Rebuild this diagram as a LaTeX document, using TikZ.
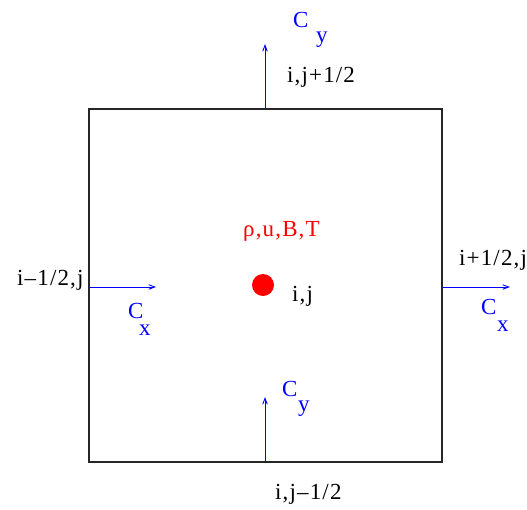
\documentclass[tikz,border=0pt]{standalone}
\usepackage{fontspec}
\setmainfont{Liberation Serif}
\usetikzlibrary{arrows.meta}
\newcommand{\lblfont}{\fontsize{23}{27}\selectfont\addfontfeature{LetterSpace=5}}
\begin{document}
\begin{tikzpicture}[x=1pt, y=-1pt,
    lbl/.style={anchor=base west, inner sep=0pt, font=\lblfont},
    flux/.style={myflux, line width=0.9pt, -{Straight Barb[length=6pt,width=4.5pt]}}]
    \definecolor{myflux}{RGB}{0,0,255}
    \definecolor{mystate}{RGB}{255,0,0}
    \useasboundingbox (0,0) rectangle (527,509);

    % cell
    \draw[line width=1.1pt, black!85] (89,109) rectangle (442,462);
    \coordinate (top) at (265,109);
    \coordinate (bot) at (265,462);
    \coordinate (lft) at (89,287);
    \coordinate (rgt) at (442,287);
    \coordinate (toptip) at (265,44);
    \coordinate (bottip) at (265,397);
    \coordinate (lfttip) at (156,287);
    \coordinate (rgttip) at (510,287);

    % fluxes across the faces
    \draw[flux] (top) -- (toptip);
    \draw[flux] (bot) -- (bottip);
    \draw[flux] (lft) -- (lfttip);
    \draw[flux] (rgt) -- (rgttip);

    % cell centre
    \fill[mystate] (263,285) circle (11) coordinate (centre);
    \node[lbl, mystate] (state) at (243,236) {ρ,u,B,T};
    \node[lbl] (ij) at (292,301) {i,j};

    % face labels
    \node[lbl] (ftop) at (287,82) {i,j+1/2};
    \node[lbl] (fbot) at (275,499) {i,j–1/2};
    \node[lbl] (flft) at (17,285) {i–1/2,j};
    \node[lbl] (frgt) at (459,265) {i+1/2,j};

    % flux names
    \node[lbl, myflux] (cytop) at (293,27) {C};
    \node[lbl, myflux] (cytopsub) at (316,42) {y};
    \node[lbl, myflux] (cybot) at (282,396) {C};
    \node[lbl, myflux] (cybotsub) at (298,411) {y};
    \node[lbl, myflux] (cxlft) at (128,318) {C};
    \node[lbl, myflux] (cxlftsub) at (139,335) {x};
    \node[lbl, myflux] (cxrgt) at (481,314) {C};
    \node[lbl, myflux] (cxrgtsub) at (497,331) {x};
\end{tikzpicture}
\end{document}
